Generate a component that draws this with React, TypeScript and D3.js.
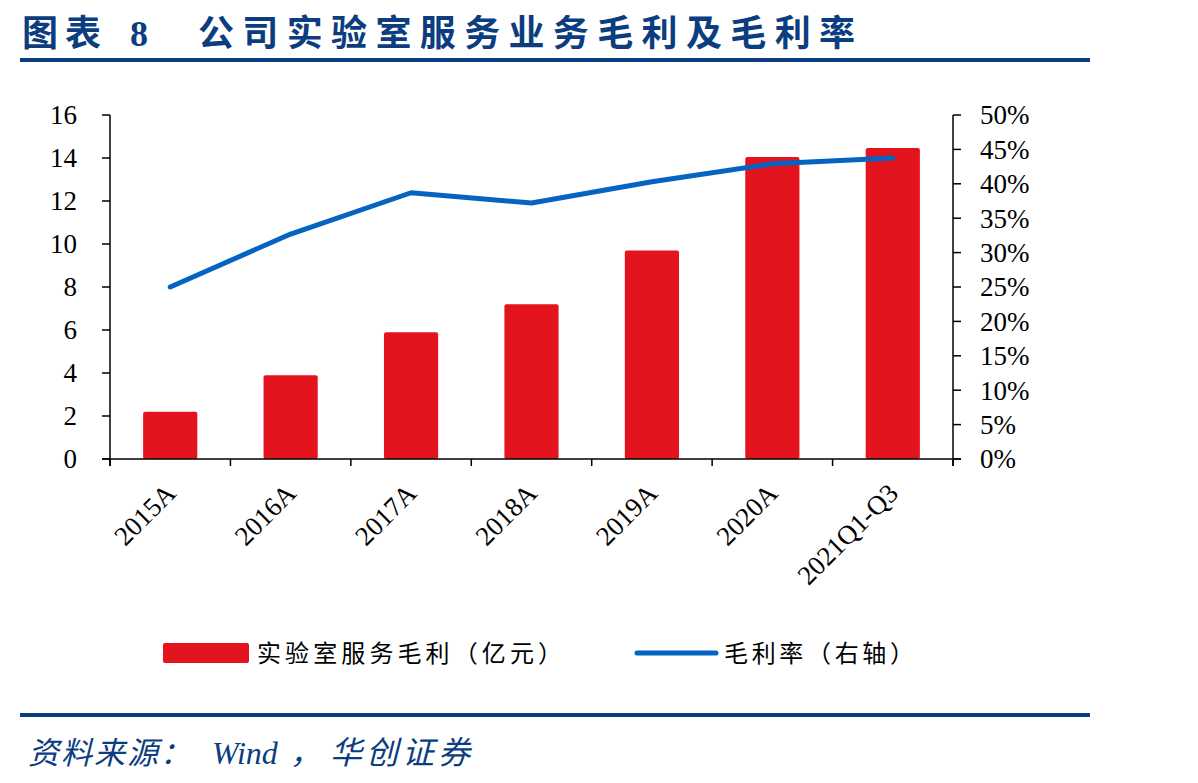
import React from "react";
import * as d3 from "d3";

const categories = ["2015A", "2016A", "2017A", "2018A", "2019A", "2020A", "2021Q1-Q3"];
const grossProfit = [2.2, 3.9, 5.9, 7.2, 9.7, 14.05, 14.47];
const grossMargin = [0.25, 0.327, 0.387, 0.372, 0.403, 0.429, 0.4375];
const leftTicks = [0, 2, 4, 6, 8, 10, 12, 14, 16];
const rightTicks = [0, 0.05, 0.1, 0.15, 0.2, 0.25, 0.3, 0.35, 0.4, 0.45, 0.5];

const W = 1198;
const H = 783;
const plot = { left: 110, right: 953, top: 115, bottom: 459 };
const NAVY = "#0B3D7F";
const RED = "#E3141E";
const BLUE = "#0563C1";
const CJK = "'Noto Sans CJK SC', sans-serif";
const SERIF = "'Liberation Serif', 'Times New Roman', serif";

const App = () => {
  const x = d3.scaleBand<string>().domain(categories).range([plot.left, plot.right]).padding(0);
  const yL = d3.scaleLinear().domain([0, 16]).range([plot.bottom, plot.top]);
  const yR = d3.scaleLinear().domain([0, 0.5]).range([plot.bottom, plot.top]);
  const barW = x.bandwidth() * 0.45;
  const cx = (c: string) => (x(c) as number) + x.bandwidth() / 2;

  // margin line on the right axis
  const line = d3
    .line<number>()
    .x((_, i) => cx(categories[i]))
    .y((d) => yR(d));

  const boundaries = categories.map((c) => x(c) as number).concat([plot.right]);

  return (
    <svg width={W} height={H} style={{ position: "absolute", left: 0, top: 0, background: "#fff" }}>
      {/* title */}
      <text x={22} y={46} fontFamily={CJK} fontWeight="bold" fontSize={36} fill={NAVY} letterSpacing={7}>
        图表
      </text>
      <text x={130} y={46} fontFamily={SERIF} fontWeight="bold" fontSize={36} fill={NAVY}>
        8
      </text>
      <text x={198} y={46} fontFamily={CJK} fontWeight="bold" fontSize={36} fill={NAVY} textLength={657} lengthAdjust="spacing">
        公司实验室服务业务毛利及毛利率
      </text>
      <rect x={20} y={58} width={1070} height={4} fill={NAVY} />

      {/* bars */}
      {categories.map((c, i) => (
        <rect
          key={c}
          x={cx(c) - barW / 2}
          y={yL(grossProfit[i])}
          width={barW}
          height={plot.bottom - yL(grossProfit[i])}
          fill={RED}
          rx={2}
        />
      ))}

      <path d={line(grossMargin) || ""} fill="none" stroke={BLUE} strokeWidth={5} strokeLinecap="round" strokeLinejoin="round" />

      {/* left axis */}
      <line x1={plot.left} x2={plot.left} y1={plot.top} y2={plot.bottom + 7} stroke="#000" strokeWidth={1.5} />
      {leftTicks.map((t) => (
        <g key={t}>
          <line x1={plot.left - 8} x2={plot.left} y1={yL(t)} y2={yL(t)} stroke="#000" strokeWidth={1.5} />
          <text x={77} y={yL(t)} dy="0.35em" textAnchor="end" fontFamily={SERIF} fontSize={27} fill="#000">
            {t}
          </text>
        </g>
      ))}

      {/* right axis */}
      <line x1={plot.right} x2={plot.right} y1={plot.top} y2={plot.bottom + 7} stroke="#000" strokeWidth={1.5} />
      {rightTicks.map((t) => (
        <g key={t}>
          <line x1={plot.right} x2={plot.right + 8} y1={yR(t)} y2={yR(t)} stroke="#000" strokeWidth={1.5} />
          <text x={980} y={yR(t)} dy="0.35em" fontFamily={SERIF} fontSize={27} fill="#000">
            {`${Math.round(t * 100)}%`}
          </text>
        </g>
      ))}

      {/* x axis */}
      <line x1={plot.left - 8} x2={plot.right + 8} y1={plot.bottom} y2={plot.bottom} stroke="#000" strokeWidth={1.5} />
      {boundaries.map((b, i) => (
        <line key={i} x1={b} x2={b} y1={plot.bottom} y2={plot.bottom + 7} stroke="#000" strokeWidth={1.5} />
      ))}
      {categories.map((c) => (
        <text
          key={c}
          transform={`translate(${cx(c) + 7},${plot.bottom + 36}) rotate(-45)`}
          textAnchor="end"
          fontFamily={SERIF}
          fontSize={27}
          fill="#000"
        >
          {c}
        </text>
      ))}

      {/* legend */}
      <rect x={163} y={643} width={86} height={20} fill={RED} rx={2} />
      <text x={257} y={662} fontFamily={CJK} fontSize={24} fill="#000" textLength={305} lengthAdjust="spacing">
        实验室服务毛利（亿元）
      </text>
      <line x1={637} x2={716} y1={653} y2={653} stroke={BLUE} strokeWidth={5} strokeLinecap="round" />
      <text x={724} y={662} fontFamily={CJK} fontSize={24} fill="#000" textLength={190} lengthAdjust="spacing">
        毛利率（右轴）
      </text>

      {/* footer */}
      <rect x={20} y={713} width={1070} height={4} fill={NAVY} />
      <g fill={NAVY} fontStyle="italic">
        <text x={28} y={764} fontFamily={CJK} fontSize={31} letterSpacing={2}>
          资料来源：
        </text>
        <text x={212} y={764} fontFamily={SERIF} fontSize={32}>
          Wind
        </text>
        <text x={290} y={764} fontFamily={CJK} fontSize={31}>
          ，
        </text>
        <text x={330} y={764} fontFamily={CJK} fontSize={32} letterSpacing={4}>
          华创证券
        </text>
      </g>
    </svg>
  );
};

export default App;
